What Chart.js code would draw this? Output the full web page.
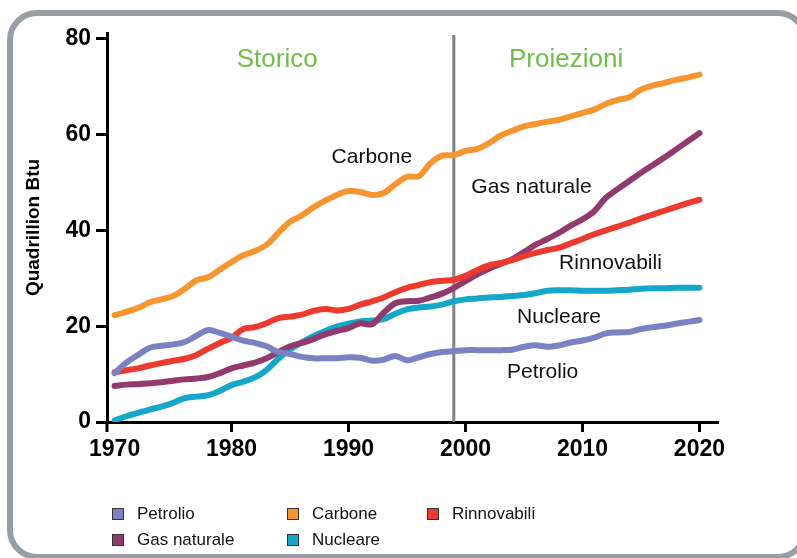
<!DOCTYPE html>
<html lang="it">
<head>
  <meta charset="UTF-8">
  <title>Consumo di energia per fonte</title>
  <script src="https://cdn.jsdelivr.net/npm/chart.js"></script>
  <style>
    html, body { margin: 0; padding: 0; background: #fff; overflow: hidden; }
    #frame {
      position: absolute; left: 7px; top: 10px; width: 801px; height: 550px;
      box-sizing: border-box; border: 6.5px solid #979ea5; border-radius: 30px;
    }
    #energyChart { position: absolute; left: 0; top: 0; }
  </style>
</head>
<body>
  <div id="frame"></div>
  <canvas id="energyChart" width="797" height="558"></canvas>

  <script>
    // anni
    const years = [];
    for (let y = 1970; y <= 2020; y++) years.push(y);

    // valori (quadrillion Btu)
    const petrolio = [10.2, 12.4, 14.0, 15.5, 15.9, 16.2, 16.7, 18.0, 19.2, 18.6,
      17.8, 17.0, 16.5, 15.8, 14.6, 14.2, 13.6, 13.3, 13.3, 13.3,
      13.5, 13.4, 12.8, 13.0, 13.8, 12.9, 13.5, 14.2, 14.6, 14.8,
      15.0, 15.0, 15.0, 15.0, 15.1, 15.7, 16.0, 15.7, 16.0, 16.6,
      17.0, 17.6, 18.5, 18.7, 18.8, 19.4, 19.8, 20.1, 20.5, 20.9, 21.3];
    const carbone = [22.3, 23.0, 23.8, 25.0, 25.6, 26.3, 27.8, 29.6, 30.2, 31.8,
      33.4, 34.8, 35.7, 37.0, 39.5, 41.8, 43.1, 44.8, 46.2, 47.4,
      48.2, 48.0, 47.4, 47.8, 49.6, 51.2, 51.3, 54.0, 55.6, 55.7,
      56.6, 57.0, 58.2, 59.8, 60.8, 61.7, 62.2, 62.7, 63.1, 63.8,
      64.5, 65.2, 66.4, 67.2, 67.8, 69.4, 70.2, 70.8, 71.4, 71.9, 72.5];
    const rinnovabili = [10.4, 10.8, 11.2, 11.8, 12.3, 12.8, 13.2, 14.0, 15.3, 16.5,
      17.6, 19.4, 19.8, 20.6, 21.7, 22.0, 22.4, 23.2, 23.6, 23.3,
      23.6, 24.5, 25.2, 26.0, 27.1, 28.0, 28.6, 29.2, 29.5, 29.7,
      30.5, 31.7, 32.7, 33.2, 33.8, 34.6, 35.3, 35.9, 36.4, 37.3,
      38.2, 39.2, 40.0, 40.8, 41.6, 42.5, 43.3, 44.1, 44.9, 45.7, 46.4];
    const gasNaturale = [7.5, 7.8, 7.9, 8.1, 8.3, 8.6, 8.9, 9.1, 9.4, 10.2,
      11.2, 11.8, 12.4, 13.3, 14.6, 15.8, 16.5, 17.3, 18.3, 19.0,
      19.6, 20.6, 20.4, 22.8, 24.8, 25.2, 25.3, 26.0, 26.8, 28.0,
      29.4, 30.8, 32.0, 33.0, 34.0, 35.5, 37.0, 38.2, 39.5, 41.0,
      42.3, 44.0, 46.8, 48.6, 50.3, 52.0, 53.6, 55.2, 56.9, 58.6, 60.3];
    const nucleare = [0.3, 1.2, 1.9, 2.6, 3.2, 4.0, 5.0, 5.3, 5.6, 6.5,
      7.7, 8.4, 9.3, 10.9, 13.2, 15.2, 16.6, 17.9, 19.0, 19.9,
      20.5, 21.0, 21.2, 21.5, 22.6, 23.5, 23.9, 24.1, 24.5, 25.2,
      25.6, 25.8, 26.0, 26.1, 26.3, 26.5, 26.9, 27.4, 27.5, 27.5,
      27.4, 27.4, 27.4, 27.5, 27.6, 27.8, 27.9, 27.9, 28.0, 28.0, 28.0];

    const xTicks = [1970, 1980, 1990, 2000, 2010, 2020];
    const yTicks = [0, 20, 40, 60, 80];
    const splitYear = 1999;

    // etichette nel grafico, ancorate a coordinate dati
    const seriesLabels = [
      { text: 'Carbone', x: 1988.55, y: 54.0 },
      { text: 'Gas naturale', x: 2000.5, y: 47.75 },
      { text: 'Rinnovabili', x: 2008.0, y: 31.95 },
      { text: 'Nucleare', x: 2004.4, y: 20.75 },
      { text: 'Petrolio', x: 2003.55, y: 9.1 }
    ];
    const periodLabels = [
      { text: 'Storico', x: 1983.9, y: 74.2 },
      { text: 'Proiezioni', x: 2008.6, y: 74.2 }
    ];

    const FONT = '"Liberation Sans", Arial, Helvetica, sans-serif';

    function series(label, values, color) {
      return {
        label: label,
        data: years.map((yr, i) => ({ x: yr, y: values[i] })),
        borderColor: color,
        backgroundColor: color,
        borderWidth: 6,
        borderCapStyle: 'round',
        borderJoinStyle: 'round',
        pointRadius: 0,
        tension: 0.35,
        fill: false
      };
    }

    const overlay = {
      id: 'overlay',
      beforeDatasetsDraw(chart) {
        const c = chart.ctx, xs = chart.scales.x, ys = chart.scales.y;
        const area = chart.chartArea;
        const px = xs.getPixelForValue(splitYear);
        c.save();
        c.strokeStyle = '#808186';
        c.lineWidth = 3;
        c.beginPath();
        c.moveTo(px, ys.getPixelForValue(80.8));
        c.lineTo(px, area.bottom);
        c.stroke();
        // asse y prolungato sotto l'asse x
        c.strokeStyle = '#000';
        c.beginPath();
        c.moveTo(area.left, area.bottom);
        c.lineTo(area.left, area.bottom + 10);
        c.stroke();
        c.restore();
      },
      afterDraw(chart) {
        const c = chart.ctx, xs = chart.scales.x, ys = chart.scales.y;
        c.save();
        c.textBaseline = 'alphabetic';
        c.fillStyle = '#111';
        c.font = '21px ' + FONT;
        c.textAlign = 'left';
        seriesLabels.forEach(l => c.fillText(l.text, xs.getPixelForValue(l.x), ys.getPixelForValue(l.y)));
        c.fillStyle = '#6cc04a';
        c.font = '26px ' + FONT;
        c.textAlign = 'center';
        periodLabels.forEach(l => c.fillText(l.text, xs.getPixelForValue(l.x), ys.getPixelForValue(l.y)));

        // legenda: 3 colonne, 2 righe
        const colX = [112, 287, 427];
        const rowY = [508, 534];
        c.font = '17px ' + FONT;
        c.textAlign = 'left';
        chart.data.datasets.forEach((ds, i) => {
          const x = colX[i % 3], y = rowY[Math.floor(i / 3)];
          c.fillStyle = ds.borderColor;
          c.fillRect(x, y, 12, 12);
          c.strokeStyle = '#333';
          c.lineWidth = 1;
          c.strokeRect(x + 0.5, y + 0.5, 11, 11);
          c.fillStyle = '#111';
          c.fillText(ds.label, x + 25, y + 10.5);
        });
        c.restore();
      }
    };

    const ctx = document.getElementById('energyChart').getContext('2d');
    const energyChart = new Chart(ctx, {
      type: 'line',
      data: {
        datasets: [
          series('Petrolio', petrolio, '#7a82c3'),
          series('Carbone', carbone, '#f7962e'),
          series('Rinnovabili', rinnovabili, '#ee3a2d'),
          series('Gas naturale', gasNaturale, '#923a6d'),
          series('Nucleare', nucleare, '#14a7ca')
        ]
      },
      options: {
        responsive: false,
        animation: false,
        layout: { padding: { top: 33, right: 80, left: 0, bottom: 0 } },
        plugins: { legend: { display: false }, tooltip: { enabled: false } },
        scales: {
          x: {
            type: 'linear',
            min: 1969.35,
            max: 2021.5,
            afterBuildTicks: s => { s.ticks = xTicks.map(v => ({ value: v })); },
            afterFit: s => { s.height = 136; },
            grid: {
              drawOnChartArea: false, drawTicks: true, tickLength: 10, lineWidth: 3,
              color: c => (c.tick && c.tick.value === xTicks[0]) ? 'rgba(0,0,0,0)' : '#000'
            },
            border: { display: true, color: '#000', width: 3 },
            ticks: {
              color: '#000',
              padding: 4,
              maxRotation: 0,
              font: { family: FONT, size: 23, weight: 'bold' },
              callback: v => String(v)
            }
          },
          y: {
            min: 0,
            max: 81.2,
            afterBuildTicks: s => { s.ticks = yTicks.map(v => ({ value: v })); },
            afterFit: s => { s.width = 107; },
            grid: { drawOnChartArea: false, drawTicks: true, tickLength: 11, color: '#000', lineWidth: 3 },
            border: { display: true, color: '#000', width: 3 },
            ticks: {
              color: '#000',
              padding: 5,
              font: { family: FONT, size: 23, weight: 'bold' }
            },
            title: {
              display: true,
              text: 'Quadrillion Btu',
              color: '#000',
              font: { family: FONT, size: 19, weight: 'bold' },
              padding: { top: 22, bottom: 0 }
            }
          }
        }
      },
      plugins: [overlay]
    });
  </script>
</body>
</html>
